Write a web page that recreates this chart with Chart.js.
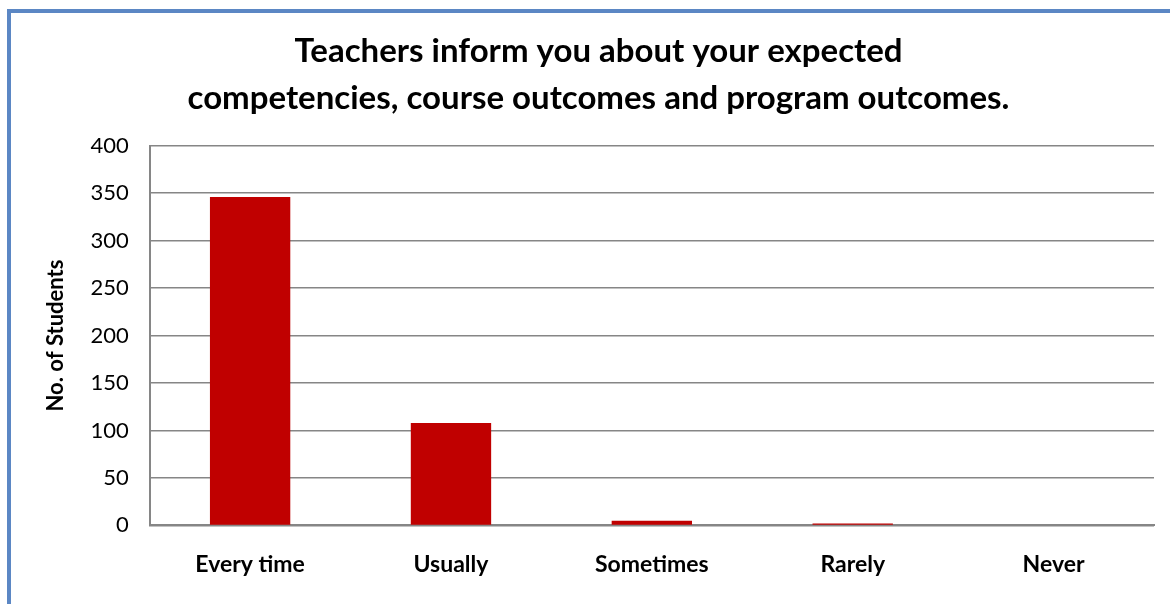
<!DOCTYPE html>
<html>
<head>
<meta charset="utf-8">
<script src="https://cdn.jsdelivr.net/npm/chart.js@4"></script>
<style>
  body { margin: 0; background: #fff; }
  #wrap { position: absolute; left: 0; top: 0; width: 1170px; height: 604px; }
  #frame { position: absolute; left: 7px; top: 9px; width: 1200px; height: 700px;
           border-left: 4px solid #5b87c4; border-top: 4px solid #5b87c4; }
</style>
</head>
<body>
<div id="frame"></div>
<div id="wrap"><canvas id="chart"></canvas></div>
<script>
const categories = ['Every time', 'Usually', 'Sometimes', 'Rarely', 'Never'];
const students = [346, 108, 5, 2, 0];
const titleLines = ['Teachers inform you about your expected', 'competencies, course outcomes and program outcomes.'];
const yTicks = [0, 50, 100, 150, 200, 250, 300, 350, 400];

const font = 'Lato, "Open Sans", sans-serif';
const gridGrey = 'rgb(134, 134, 134)';

new Chart(document.getElementById('chart'), {
    type: 'bar',
    data: {
        labels: categories,
        datasets: [{
            label: 'No. of Students',
            data: students,
            backgroundColor: '#c00000',
            borderWidth: 0,
            barPercentage: 0.4,
            categoryPercentage: 1
        }]
    },
    options: {
        responsive: true,
        maintainAspectRatio: false,
        animation: false,
        layout: { padding: { left: 43, right: 16, top: 0, bottom: 1 } },
        plugins: {
            legend: { display: false },
            tooltip: { enabled: false },
            title: {
                display: true,
                text: titleLines,
                color: '#000',
                font: { family: font, size: 33, weight: 'bold', lineHeight: 1.42 },
                padding: { top: 28, bottom: 24 }
            }
        },
        scales: {
            y: {
                min: 0,
                max: 400,
                afterBuildTicks: axis => { axis.ticks = yTicks.map(v => ({ value: v })); },
                ticks: { color: '#000', font: { family: font, size: 22 }, padding: 21 },
                grid: { color: gridGrey, lineWidth: 1.5, drawTicks: false },
                border: { color: gridGrey, width: 2 },
                title: {
                    display: true,
                    text: 'No. of Students',
                    color: '#000',
                    font: { family: font, size: 22, weight: 'bold' },
                    padding: { top: 0, bottom: 0 }
                }
            },
            x: {
                ticks: { color: '#000', font: { family: font, size: 23, weight: 'bold' }, padding: 25 },
                grid: { display: false, drawTicks: false },
                border: { color: gridGrey, width: 2 }
            }
        }
    }
});
</script>
</body>
</html>
